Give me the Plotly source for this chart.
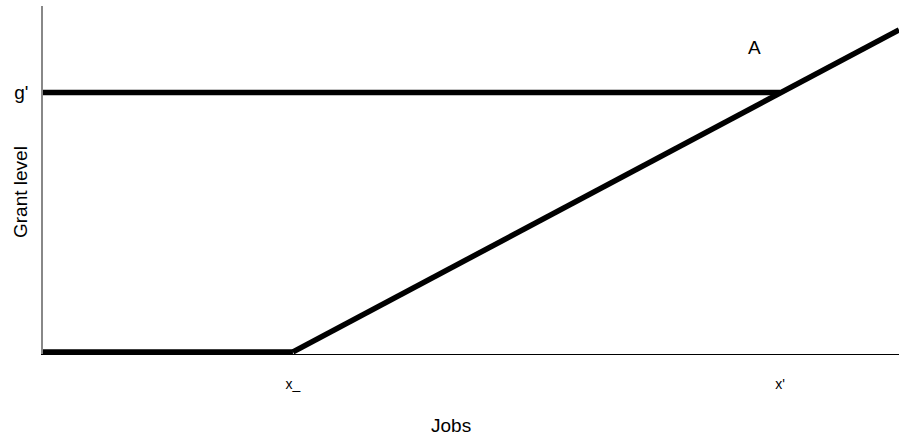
import plotly.graph_objects as go

# Data (arbitrary units)
x_low = 29.2      # x_
x_prime = 86.1    # x'
x_end = 100.0
g_prime = 75.0    # g'
y_end = 93.1

flat_x = [0, x_low]
flat_y = [0, 0]
diag_x = [x_low, x_end]
diag_y = [0, y_end]
grant_x = [0, x_prime]
grant_y = [g_prime, g_prime]

x_tickvals = [x_low, x_prime]
x_ticktext = ["x_", "x'"]
y_tickvals = [g_prime]
y_ticktext = ["g'"]

label_A = (83.1, 87.9)

FONT = "Liberation Sans, Arial, sans-serif"
line_style = dict(color="black", width=5.5)

fig = go.Figure()
fig.add_trace(go.Scatter(x=grant_x, y=grant_y, mode="lines", line=line_style, hoverinfo="skip"))
fig.add_trace(go.Scatter(x=flat_x, y=flat_y, mode="lines", line=line_style, hoverinfo="skip"))
fig.add_trace(go.Scatter(x=diag_x, y=diag_y, mode="lines", line=line_style, hoverinfo="skip"))

fig.add_annotation(x=label_A[0], y=label_A[1], text="A", showarrow=False,
                   xanchor="center", yanchor="middle",
                   font=dict(size=19, color="black", family=FONT))
fig.add_annotation(xref="paper", yref="paper", x=(451 - 43) / 856, y=-(425 - 354) / 348,
                   text="Jobs", showarrow=False, xanchor="center", yanchor="middle",
                   font=dict(size=19, color="black", family=FONT))
fig.add_annotation(xref="paper", yref="paper", x=(20 - 43) / 856, y=(354 - 192) / 348,
                   text="Grant level", showarrow=False, textangle=-90,
                   xanchor="center", yanchor="middle",
                   font=dict(size=19, color="black", family=FONT))

fig.update_layout(
    width=899, height=439,
    margin=dict(l=43, r=0, t=6, b=85),
    paper_bgcolor="white", plot_bgcolor="white",
    showlegend=False,
    font=dict(family=FONT, size=14, color="black"),
    xaxis=dict(range=[0, 100], showgrid=False, zeroline=False,
               showline=True, linecolor="black", linewidth=1,
               tickmode="array", tickvals=x_tickvals, ticktext=x_ticktext,
               ticks="", ticklabelstandoff=17, tickfont=dict(size=14)),
    yaxis=dict(range=[-0.6, 100], showgrid=False, zeroline=False,
               showline=True, linecolor="#888888", linewidth=1.5,
               tickmode="array", tickvals=y_tickvals, ticktext=y_ticktext,
               ticks="", ticklabelstandoff=9, tickfont=dict(size=19)),
)

fig.write_html("out.html", config={"displayModeBar": False},
               post_script="document.body.style.margin='0px';document.body.style.overflow='hidden';")
